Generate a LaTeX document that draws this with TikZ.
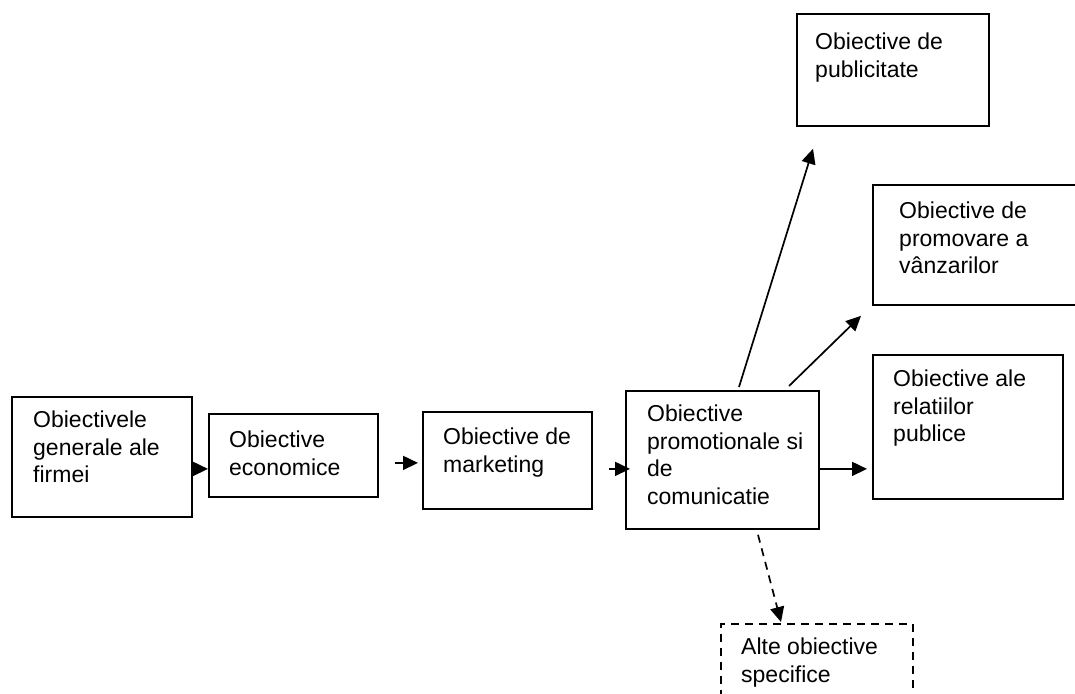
\documentclass[tikz,border=0pt]{standalone}
\usepackage{fontspec}
\setmainfont{Liberation Sans}
\usetikzlibrary{arrows.meta,calc}
\begin{document}
\begin{tikzpicture}[x=1pt,y=-1pt,
  box/.style={draw=black,line width=1.8pt,rectangle,inner sep=0pt,anchor=north west},
  dbox/.style={box,line width=1.6pt,dash pattern=on 8pt off 6pt},
  txt/.style={anchor=north west,inner sep=0pt,align=left,font=\fontsize{23}{27.5}\selectfont},
  arr/.style={line width=1.7pt,-{Triangle[length=15pt,width=14pt]}},
  darr/.style={arr,dash pattern=on 8pt off 6pt}]
\clip (0,0) rectangle (1075,693);
\fill[white] (0,0) rectangle (1075,693);
% boxes
\node[box,minimum width=180pt,minimum height=120pt] (b1) at (11,396) {};
\node[box,minimum width=169pt,minimum height=83pt] (b2) at (208,413) {};
\node[box,minimum width=169pt,minimum height=97pt] (b3) at (422,411) {};
\node[box,minimum width=193pt,minimum height=138pt] (b4) at (625,390) {};
\node[box,minimum width=192pt,minimum height=112pt] (b5) at (796,13) {};
\node[box,minimum width=230pt,minimum height=120pt] (b6) at (872,184) {};
\node[box,minimum width=190pt,minimum height=144pt] (b7) at (872,354) {};
\node[dbox,minimum width=192pt,minimum height=110pt] (b8) at (720,623) {};
% texts
\node[txt] (t1) at ([shift={(22pt,-15pt)}]b1.north west) {Obiectivele\\generale ale\\firmei};
\node[txt] (t2) at ([shift={(21pt,-18pt)}]b2.north west) {Obiective\\economice};
\node[txt] (t3) at ([shift={(21pt,-17pt)}]b3.north west) {Obiective de\\marketing};
\node[txt] (t4) at ([shift={(22pt,-15pt)}]b4.north west) {Obiective\\promotionale si\\de\\comunicatie};
\node[txt] (t5) at ([shift={(19pt,-20pt)}]b5.north west) {Obiective de\\publicitate};
\node[txt] (t6) at ([shift={(27pt,-18pt)}]b6.north west) {Obiective de\\promovare a\\vânzarilor};
\node[txt] (t7) at ([shift={(21pt,-16pt)}]b7.north west) {Obiective ale\\relatiilor\\publice};
\node[txt] (t8) at ([shift={(21pt,-15pt)}]b8.north west) {Alte obiective\\specifice};
% connectors
\draw[arr] ([yshift=-12pt]b1.east) -- ($(b1.east -| b2.west)+(0pt,-12pt)$);
\draw[arr] ($(b2.east)+(16pt,-7.5pt)$) -- ($(b3.west)+(-4pt,-2.5pt)$);
\draw[arr] ($(b3.east)+(16pt,-8.5pt)$) -- ($(b4.west)+(5pt,-9pt)$);
\draw[arr] ([yshift=-9pt]b4.east) -- ($(b4.east -| b7.west)+(-5pt,-9pt)$);
\draw[arr] ($(b4.north west)+(114pt,3pt)$) -- ($(b5.south west)+(17pt,-22pt)$);
\draw[arr] ($(b4.north west)+(164pt,4pt)$) -- ($(b6.south west)+(-11pt,-10pt)$);
\draw[darr] ($(b4.south west)+(133pt,-5pt)$) -- ($(b8.north west)+(61pt,1pt)$);
\end{tikzpicture}
\end{document}
